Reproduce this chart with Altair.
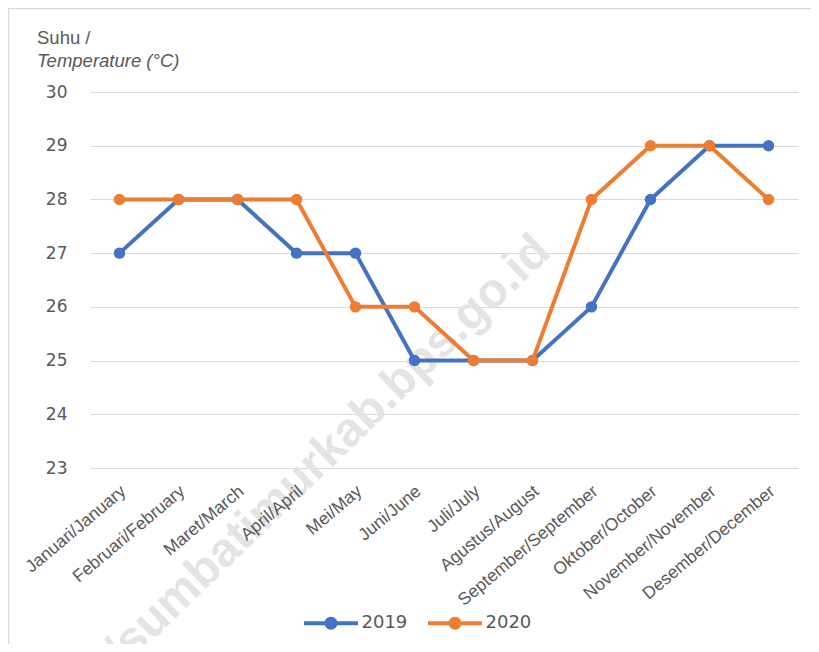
import altair as alt
import pandas as pd

months = ["Januari/January", "Februari/February", "Maret/March", "April/April",
          "Mei/May", "Juni/June", "Juli/July", "Agustus/August",
          "September/September", "Oktober/October", "November/November",
          "Desember/December"]
t2019 = [27, 28, 28, 27, 27, 25, 25, 25, 26, 28, 29, 29]
t2020 = [28, 28, 28, 28, 26, 26, 25, 25, 28, 29, 29, 28]
years = ["2019", "2020"]
colors = ["#4472C4", "#ED7D31"]
y_ticks = [23, 24, 25, 26, 27, 28, 29, 30]
watermark = "https://sumbatimurkab.bps.go.id"
title_lines = ["Suhu /", "Temperature (°C)"]

rows = []
for m, v in zip(months, t2019):
    rows.append({"bulan": m, "suhu": v, "tahun": "2019"})
for m, v in zip(months, t2020):
    rows.append({"bulan": m, "suhu": v, "tahun": "2020"})
df = pd.DataFrame(rows)

GRAY = "#595959"

x_enc = alt.X("bulan:N", sort=months, title=None,
              scale=alt.Scale(type="point", padding=0.5),
              axis=alt.Axis(labelAngle=-40, labelAlign="right", labelBaseline="top",
                            labelPadding=14, labelOffset=-2, labelFont="Liberation Sans",
                            labelFontSize=17.5, labelColor=GRAY, domain=False, ticks=False,
                            grid=False, labelOverlap=False, zindex=1))
y_enc = alt.Y("suhu:Q", title=None,
              scale=alt.Scale(domain=[23, 30], nice=False, zero=False),
              axis=alt.Axis(values=y_ticks, labelFont="DejaVu Sans", labelFontSize=17,
                            labelColor=GRAY, labelPadding=23, domain=False, ticks=False,
                            grid=True, gridColor="#d9d9d9", gridWidth=1.2))

legend_path = ("M-2,-0.15 H2 V0.15 H-2 Z "
               "M0.48,0 A0.48,0.48 0 1,1 -0.48,0 A0.48,0.48 0 1,1 0.48,0 Z")
color_enc = alt.Color("tahun:N", title=None,
                      scale=alt.Scale(domain=years, range=colors),
                      legend=alt.Legend(orient="none", legendX=227.5, legendY=517.5,
                                        direction="horizontal", symbolType=legend_path,
                                        symbolSize=729, symbolStrokeWidth=0,
                                        labelFont="DejaVu Sans", labelFontSize=18,
                                        labelColor=GRAY, labelOffset=17,
                                        columnPadding=20, padding=0))

wm = alt.Chart(pd.DataFrame({"t": [watermark]})).mark_text(
    angle=316, align="right", baseline="middle", font="Liberation Sans",
    fontSize=48, fontWeight="bold", color="#e4e4e4"
).encode(text="t:N", x=alt.value(453), y=alt.value(152))

border = alt.Chart(pd.DataFrame({"b": [1]})).mark_rect(
    filled=False, stroke="#d9d9d9", strokeWidth=1.5
).encode(x=alt.value(-81.5), x2=alt.value(722), y=alt.value(-83.5), y2=alt.value(700))

t1 = alt.Chart(pd.DataFrame({"t": [title_lines[0]]})).mark_text(
    align="left", baseline="alphabetic", font="Liberation Sans", fontSize=18.5,
    color=GRAY).encode(text="t:N", x=alt.value(-53), y=alt.value(-48))
t2 = alt.Chart(pd.DataFrame({"t": [title_lines[1]]})).mark_text(
    align="left", baseline="alphabetic", font="Liberation Sans", fontSize=18.5,
    fontStyle="italic", color=GRAY).encode(text="t:N", x=alt.value(-53), y=alt.value(-25))

layers = [border, wm, t1, t2]
for yr, col in zip(years, colors):
    base = alt.Chart(df).transform_filter(alt.datum.tahun == yr)
    line = base.mark_line(strokeWidth=4, color=col).encode(x=x_enc, y=y_enc)
    pts = base.mark_point(filled=True, size=130, opacity=1).encode(
        x=x_enc, y=y_enc, color=color_enc)
    layers += [line, pts]

chart = alt.layer(*layers).properties(
    width=708, height=376,
    autosize=alt.AutoSizeParams(type="none"),
    padding={"left": 82, "top": 84, "right": 13, "bottom": 176},
    background="white",
).configure_view(stroke=None)

chart.save("out.html", embed_options={"renderer": "svg", "actions": False})
